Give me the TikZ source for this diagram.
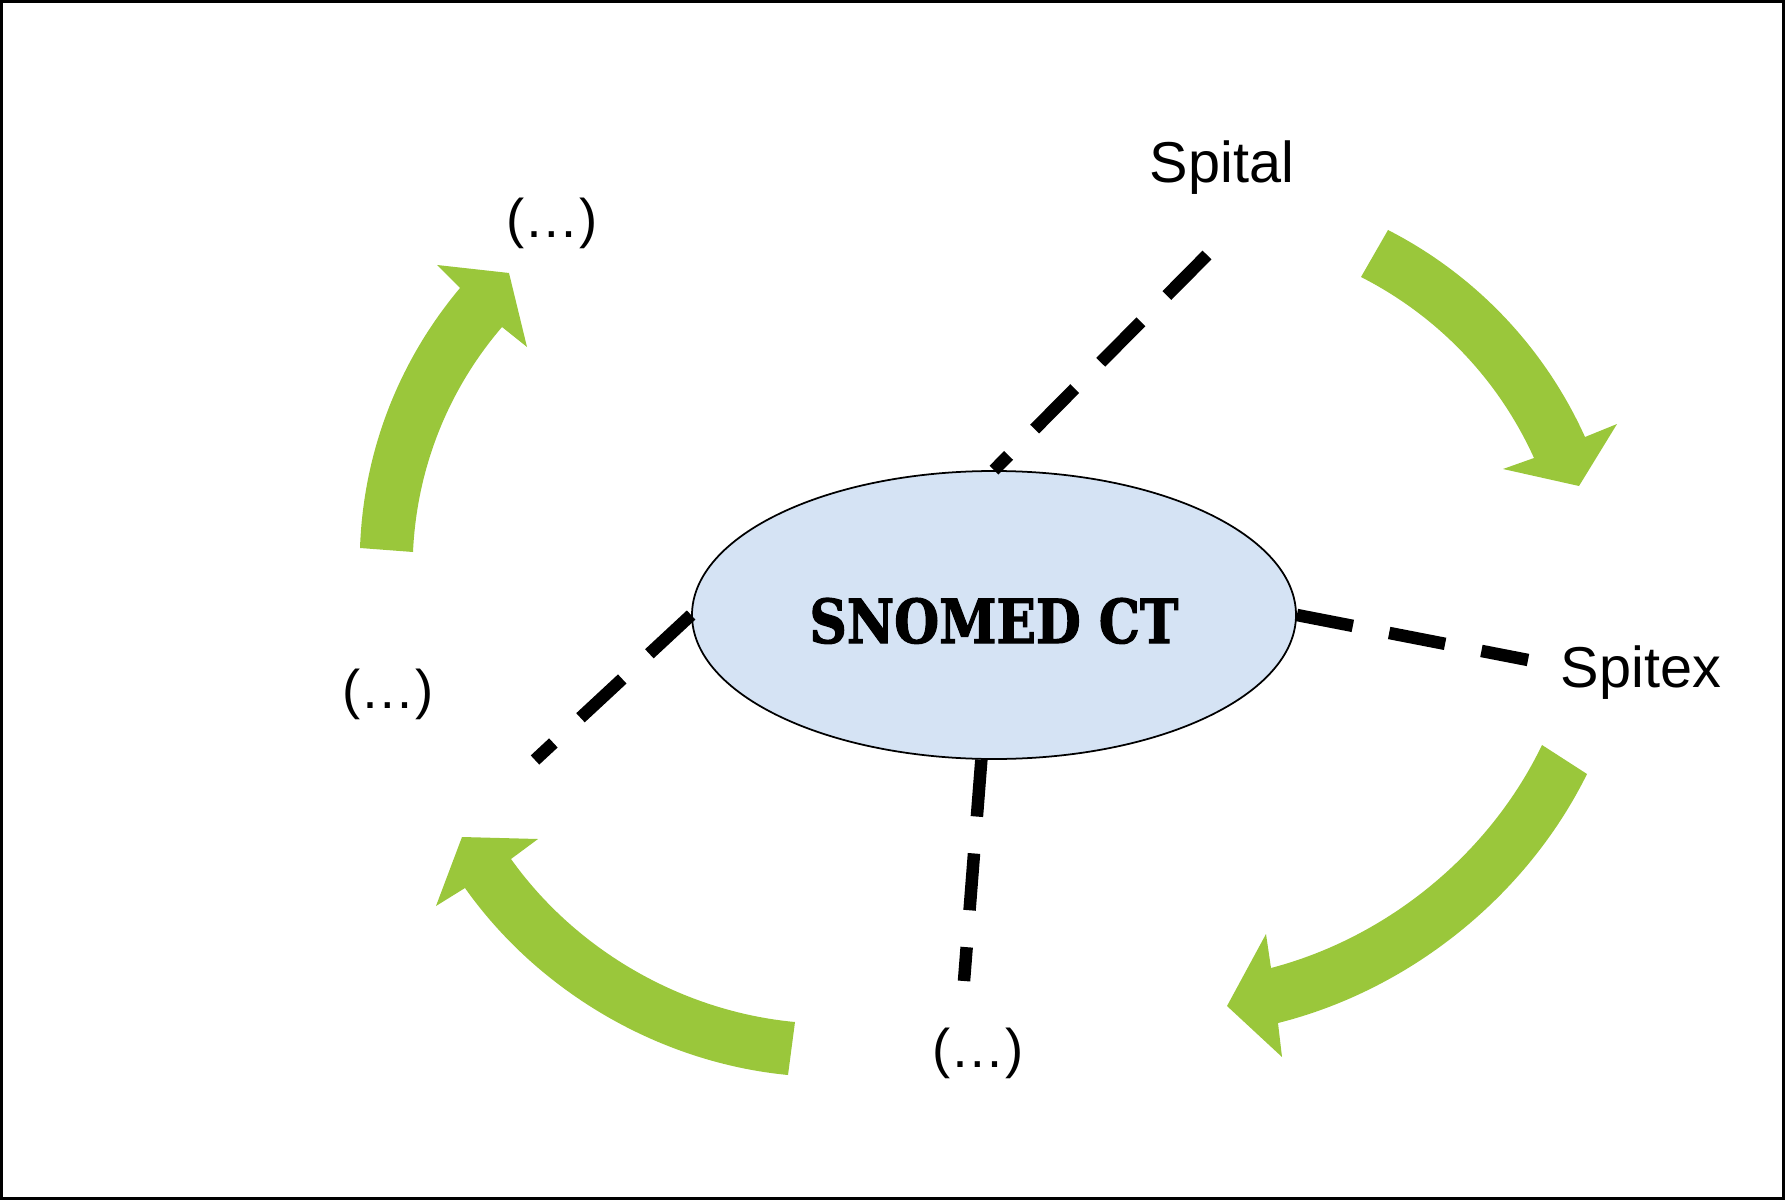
\documentclass[tikz,border=0pt]{standalone}
\usepackage{fontspec}
\setmainfont{Liberation Sans}
\newfontfamily\snofont[BoldFeatures={FakeBold=2}]{DejaVu Serif}
\usetikzlibrary{shapes.geometric}
\definecolor{arrowgreen}{RGB}{154,199,59}
\definecolor{ellblue}{RGB}{213,227,244}
\begin{document}
\begin{tikzpicture}[x=0.1mm,y=-0.1mm,
  lbl/.style={font=\fontsize{16.4}{19}\selectfont, inner sep=0pt, anchor=base},
  etc/.style={font=\fontsize{15.5}{18}\selectfont, inner sep=0pt, anchor=base},
  link/.style={line width=1.25mm, dash pattern=on 5.7mm off 3.7mm},
  bigarrow/.style={fill=arrowgreen, draw=none, looseness=0.88}]
\useasboundingbox (0,0) rectangle (1785,1200);
\draw[line width=0.3mm] (1.5,1.5) rectangle (1783.5,1198.5);

% green cycle arrows
\fill[bigarrow] (360,548) to[out=88,in=230] (460,288) -- (437,265) -- (509,273) -- (527,347) -- (502,327) to[out=229.4,in=87.4] (413,552) -- cycle;
\fill[bigarrow] (1388,230) to[out=-27.1,in=114.3] (1585,437) -- (1617,424) -- (1579,486) -- (1503,469) -- (1534,458) to[out=114.4,in=-27] (1361,277) -- cycle;
\fill[bigarrow] (1587,774) to[out=243.7,in=14.1] (1278,1023) -- (1282,1057) -- (1227,1006) -- (1266,934) -- (1271,968) to[out=14.7,in=244.3] (1542,745) -- cycle;
\fill[bigarrow] (788,1075) to[out=174.5,in=-54.7] (465,888) -- (436,906) -- (462,837) -- (538,839) -- (511,859) to[out=-54.5,in=174.7] (795,1022) -- cycle;

% central ellipse
\node[ellipse, draw=black, line width=0.5pt, fill=ellblue, minimum width=60.4mm, minimum height=28.8mm, inner sep=0pt] (snomed) at (994,615)
  {\raisebox{-0.55mm}[4.5mm][0pt]{\resizebox{36.9mm}{4.5mm}{\snofont\bfseries SNOMED CT}}};

% labels
\node[lbl] (spital) at (1222,183) {Spital};
\node[lbl] (spitex) at (1641,687) {Spitex};
\node[etc] (etcA) at (552,237) {(…)};
\node[etc] (etcB) at (388,708) {(…)};
\node[etc] (etcC) at (978,1067) {(…)};

% dashed links
\coordinate (pA) at (1207,255);
\coordinate (pB) at (1528,660);
\coordinate (pC) at (964,981);
\coordinate (pD) at (535,760);
\draw[link] (pA) -- (snomed.north);
\draw[link] (snomed.east) -- (pB);
\draw[link] (snomed.265) -- (pC);
\draw[link] (snomed.west) -- (pD);
\end{tikzpicture}
\end{document}
